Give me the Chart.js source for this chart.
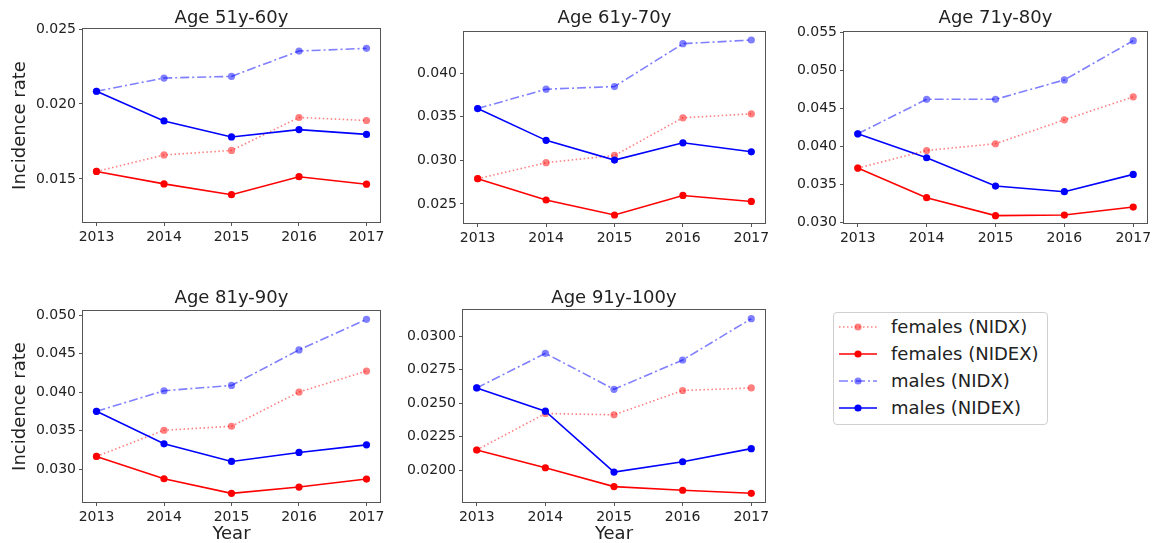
<!DOCTYPE html>
<html>
<head>
<meta charset="utf-8">
<script src="https://cdn.jsdelivr.net/npm/chart.js@4.4.0/dist/chart.umd.min.js"></script>
<style>
  html, body { margin: 0; padding: 0; background: #fff; }
  body { width: 1162px; height: 543px; position: relative; overflow: hidden; font-family: "DejaVu Sans", sans-serif; color: #222; }
  canvas { position: absolute; }
  #legend { position: absolute; left: 833px; top: 312px; width: 213px; height: 111px; border: 1px solid #d0d0d0; border-radius: 4px; }
  .row { position: absolute; left: 0; height: 20px; font-size: 18px; line-height: 20px; white-space: nowrap; }
  .row svg { position: absolute; left: 5px; top: 5px; }
  .row span { position: absolute; left: 57px; top: 0; }
</style>
</head>
<body>
<div id="legend"></div>
<script>
const years = [2013, 2014, 2015, 2016, 2017];
const ageGroups = ["Age 51y-60y", "Age 61y-70y", "Age 71y-80y", "Age 81y-90y", "Age 91y-100y"];

// one row per age group
const femalesNIDX = [
  [0.0155, 0.0166, 0.0169, 0.0191, 0.0189],
  [0.0279, 0.02974, 0.03057, 0.03489, 0.03534],
  [0.03715, 0.03947, 0.04036, 0.04351, 0.04654],
  [0.03164, 0.03504, 0.03556, 0.0400, 0.04272],
  [0.0215, 0.02423, 0.02413, 0.02595, 0.02614]
];
const femalesNIDEX = [
  [0.0155, 0.01467, 0.01395, 0.01515, 0.01465],
  [0.0279, 0.02546, 0.02374, 0.02598, 0.02529],
  [0.03715, 0.03325, 0.03088, 0.03096, 0.03201],
  [0.03164, 0.02875, 0.02685, 0.02767, 0.02871],
  [0.0215, 0.02017, 0.01876, 0.01849, 0.01826]
];
const malesNIDX = [
  [0.02085, 0.02173, 0.02184, 0.02353, 0.02371],
  [0.03595, 0.03817, 0.03847, 0.04339, 0.04381],
  [0.04167, 0.04622, 0.04622, 0.04877, 0.05395],
  [0.0375, 0.04017, 0.04086, 0.04547, 0.04944],
  [0.02614, 0.02873, 0.02604, 0.02823, 0.03132]
];
const malesNIDEX = [
  [0.02085, 0.01887, 0.0178, 0.01829, 0.01797],
  [0.03595, 0.0323, 0.03004, 0.03202, 0.03099],
  [0.04167, 0.03851, 0.03478, 0.03404, 0.03632],
  [0.0375, 0.03328, 0.03099, 0.03216, 0.03315],
  [0.02614, 0.0244, 0.01985, 0.02062, 0.0216]
];

const yMin = [0.01213, 0.02282, 0.02991, 0.02573, 0.01761];
const yMax = [0.025, 0.04473, 0.05509, 0.05052, 0.03197];
const yTicks = [
  [0.015, 0.020, 0.025],
  [0.025, 0.030, 0.035, 0.040],
  [0.030, 0.035, 0.040, 0.045, 0.050, 0.055],
  [0.030, 0.035, 0.040, 0.045, 0.050],
  [0.0200, 0.0225, 0.0250, 0.0275, 0.0300]
];
const yDecimals = [3, 3, 3, 3, 4];

const FONT = "DejaVu Sans";
const TXT = "#222";
const AXIS = "#555";

const series = [
  { label: "females (NIDX)", data: femalesNIDX, color: "rgba(255,0,0,0.5)", dash: [1.5, 2.5], svgDash: "1.5 2.5" },
  { label: "females (NIDEX)", data: femalesNIDEX, color: "#ff0000", dash: [], svgDash: "" },
  { label: "males (NIDX)", data: malesNIDX, color: "rgba(0,0,255,0.5)", dash: [9, 3, 2, 3], svgDash: "9 3 2 3" },
  { label: "males (NIDEX)", data: malesNIDEX, color: "#0000ff", dash: [], svgDash: "" }
];

// canvas box + plot area (page px) for each panel
const panels = [
  { cx: 0,   cy: 0,   cw: 400, ch: 250, L: 83,  T: 29,  R: 380,  B: 222, tTop: 9.5,  yTitle: true,  xTitle: false },
  { cx: 395, cy: 0,   cw: 390, ch: 250, L: 464, T: 32,  R: 765,  B: 223, tTop: 9.5,  yTitle: false, xTitle: false },
  { cx: 775, cy: 0,   cw: 387, ch: 250, L: 844, T: 32,  R: 1147, B: 223, tTop: 9.5,  yTitle: false, xTitle: false },
  { cx: 0,   cy: 260, cw: 400, ch: 283, L: 83,  T: 311, R: 380,  B: 502, tTop: 29.5, yTitle: true,  xTitle: true },
  { cx: 395, cy: 260, cw: 390, ch: 283, L: 463, T: 310, R: 765,  B: 502, tTop: 29.5, yTitle: false, xTitle: true }
];

// matplotlib-like box round the plot area
const frame = {
  id: "frame",
  afterDraw(chart) {
    const { ctx, chartArea: a } = chart;
    ctx.save();
    ctx.strokeStyle = AXIS;
    ctx.lineWidth = 1;
    ctx.strokeRect(Math.round(a.left) - 0.5, Math.round(a.top) - 0.5, Math.round(a.right - a.left) + 1, Math.round(a.bottom - a.top) + 1);
    ctx.restore();
  }
};

panels.forEach((p, i) => {
  const cv = document.createElement("canvas");
  cv.width = p.cw; cv.height = p.ch;
  cv.style.left = p.cx + "px"; cv.style.top = p.cy + "px";
  cv.style.width = p.cw + "px"; cv.style.height = p.ch + "px";
  document.body.appendChild(cv);

  const yW = p.L - p.cx;
  const xH = p.cy + p.ch - p.B;
  const tH = p.T - p.cy;

  const datasets = series.map((s, k) => ({
    label: s.label,
    data: years.map((yr, j) => ({ x: yr, y: s.data[i][j] })),
    xAxisID: "x",
    yAxisID: "y",
    borderColor: s.color,
    backgroundColor: s.color,
    pointBackgroundColor: s.color,
    pointBorderWidth: 0,
    pointRadius: 3.6,
    pointHoverRadius: 3.6,
    borderWidth: 1.6,
    borderDash: s.dash,
    tension: 0,
    fill: false,
    order: series.length - k
  }));

  new Chart(cv.getContext("2d"), {
    type: "line",
    data: { datasets },
    plugins: [frame],
    options: {
      responsive: false,
      animation: false,
      layout: { padding: { left: 0, top: 0, right: p.cx + p.cw - p.R, bottom: 0 } },
      plugins: {
        legend: { display: false },
        tooltip: { enabled: false },
        title: { display: false }
      },
      scales: {
        // top axis only carries the panel title, centred over the plot area
        xTop: {
          type: "linear",
          position: "top",
          min: years[0] - 0.2,
          max: years[years.length - 1] + 0.2,
          afterFit: s => { s.height = tH; s.paddingLeft = 0; s.paddingRight = 0; },
          border: { display: false },
          grid: { display: false },
          ticks: { display: false },
          title: {
            display: true, text: ageGroups[i], color: TXT,
            font: { family: FONT, size: 18, lineHeight: 1 },
            padding: { top: p.tTop, bottom: 0 }
          }
        },
        x: {
          type: "linear",
          position: "bottom",
          min: years[0] - 0.2,
          max: years[years.length - 1] + 0.2,
          afterBuildTicks: s => { s.ticks = years.map(v => ({ value: v })); },
          afterFit: s => { s.height = xH; s.paddingLeft = 0; s.paddingRight = 0; },
          border: { display: false },
          grid: { display: true, drawOnChartArea: false, drawTicks: true, tickLength: 4, tickColor: AXIS },
          ticks: { color: TXT, font: { family: FONT, size: 14 }, padding: 3, maxRotation: 0, callback: v => String(v) },
          title: {
            display: p.xTitle, text: "Year", color: TXT,
            font: { family: FONT, size: 18, lineHeight: 1 },
            padding: { top: 0, bottom: 0 }
          }
        },
        y: {
          type: "linear",
          min: yMin[i],
          max: yMax[i],
          afterBuildTicks: s => { s.ticks = yTicks[i].map(v => ({ value: v })); },
          afterFit: s => { s.width = yW; s.paddingTop = 0; s.paddingBottom = 0; },
          border: { display: false },
          grid: { display: true, drawOnChartArea: false, drawTicks: true, tickLength: 4, tickColor: AXIS },
          ticks: { color: TXT, font: { family: FONT, size: 14 }, padding: 3, callback: v => Number(v).toFixed(yDecimals[i]) },
          title: {
            display: p.yTitle, text: "Incidence rate", color: TXT,
            font: { family: FONT, size: 18, lineHeight: 1 },
            padding: { top: 11.5, bottom: 0 }
          }
        }
      }
    }
  });
});

// legend
const legend = document.getElementById("legend");
series.forEach((s, k) => {
  const row = document.createElement("div");
  row.className = "row";
  row.style.top = (4 + k * 27) + "px";
  row.innerHTML =
    `<svg width="40" height="10"><line x1="0" y1="5" x2="38" y2="5" stroke="${s.color}" stroke-width="1.6" ${s.svgDash ? `stroke-dasharray="${s.svgDash}"` : ""}/>` +
    `<circle cx="19" cy="5" r="3.6" fill="${s.color}"/></svg><span>${s.label}</span>`;
  legend.appendChild(row);
});
</script>
</body>
</html>
